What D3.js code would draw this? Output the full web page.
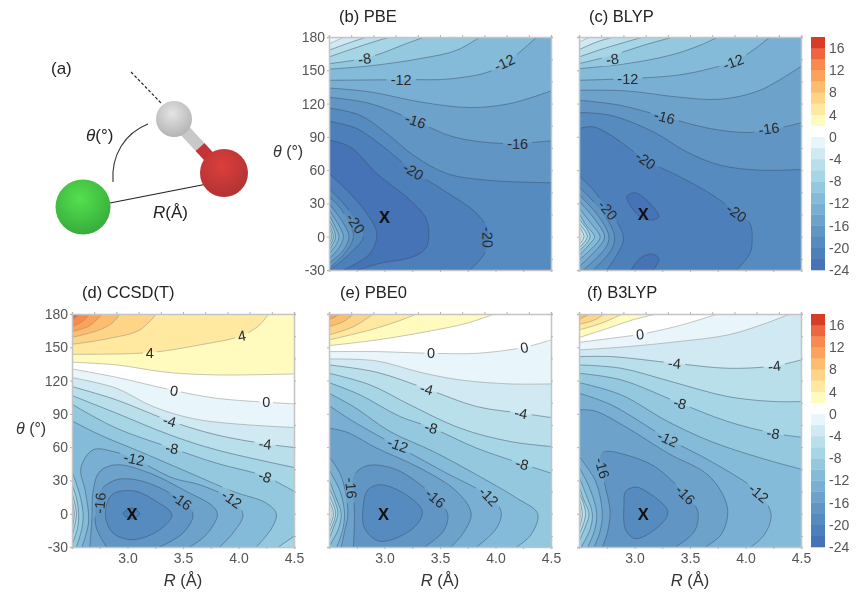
<!DOCTYPE html>
<html>
<head>
<meta charset="utf-8">
<script src="https://cdnjs.cloudflare.com/ajax/libs/d3/7.8.5/d3.min.js"></script>
<style>
  body { margin: 0; background: #fff; }
  svg { display: block; font-family: "Liberation Sans", Arial, sans-serif; filter: blur(0.45px); }
</style>
</head>
<body>
<svg id="chart" width="858" height="601"></svg>
<script>
// isolines: [level (kcal/mol), [[R, theta], ...]]
// open lines run with the higher energy on their left, lines not starting on the frame are closed loops
const pbeLines = [
  [-2, [[2.5,174],[2.64,180]]],
  [-4, [[2.5,168],[2.66,174],[2.84,180]]],
  [-6, [[2.5,162],[2.69,168.6],[2.87,174.6],[3.05,180]]],
  [-8, [[2.5,156],[2.72,159],[2.93,163.9],[3.17,173],[3.36,180]]],
  [-10, [[2.5,151],[2.87,154],[3.32,160.5],[3.65,168],[3.86,180]]],
  [-12, [[2.5,141],[3.15,141.6],[3.62,142.5],[4.01,151.5],[4.37,180]]],
  [-14, [[2.5,134],[2.87,130.5],[3.32,121.5],[3.77,116.4],[4.13,120],[4.5,131.4]]],
  [-16, [[2.5,125.7],[2.87,120],[3.28,104.4],[3.62,90],[4.07,84],[4.5,86.4]]],
  [-18, [[2.5,116],[2.78,109.5],[3.02,93],[3.26,73.5],[3.56,57],[3.92,51],[4.5,48.6]]],
  [-20, [[2.5,104],[2.75,97.5],[2.99,81],[3.26,59],[3.53,42],[3.83,21],[3.93,6],[3.9,-15],[3.77,-30]]],
  [-22, [[2.5,87],[2.69,81],[2.93,57],[3.23,33],[3.38,15],[3.38,-9],[3.26,-18],[2.96,-24],[2.76,-30]]],
  [-22, [[2.63,-30],[2.87,-15],[2.93,3],[2.84,21],[2.66,42],[2.5,57]]],
  [-20, [[2.51,-30],[2.69,-15],[2.81,0],[2.76,12],[2.63,30],[2.5,43.5]]],
  [-18, [[2.5,-28.5],[2.64,-15],[2.72,0],[2.67,15],[2.58,28.5],[2.5,36]]],
  [-16, [[2.5,-24],[2.63,-12],[2.68,0],[2.63,12],[2.5,30]]],
  [-14, [[2.5,-20],[2.59,-10],[2.63,0],[2.59,10],[2.5,24]]],
  [-12, [[2.5,-15],[2.56,-8],[2.59,0],[2.56,8],[2.5,20]]],
  [-10, [[2.5,-12],[2.56,0],[2.5,15]]],
  [-8, [[2.5,-9],[2.54,0],[2.5,11]]],
  [-6, [[2.5,-6],[2.525,0],[2.5,8]]],
  [-4, [[2.5,-3],[2.51,0],[2.5,4]]]
];
const blypLines = [
  [-2, [[2.5,175.5],[2.6,180]]],
  [-4, [[2.5,168.6],[2.66,175.5],[2.81,180]]],
  [-6, [[2.5,162],[2.72,169.5],[3.08,180]]],
  [-8, [[2.5,156],[2.8,163.5],[3.08,172.5],[3.35,180]]],
  [-10, [[2.5,151.5],[2.93,156],[3.32,163.5],[3.59,172.5],[3.75,180]]],
  [-12, [[2.5,141],[2.94,142.5],[3.38,145.5],[3.68,151.5],[3.95,160.5],[4.22,180]]],
  [-14, [[2.5,132],[2.93,131.4],[3.38,126],[3.77,123.9],[4.13,132],[4.5,153.6]]],
  [-16, [[2.5,123],[2.87,118.5],[3.27,108],[3.68,97.5],[4.01,93.9],[4.21,96],[4.5,102.6]]],
  [-18, [[2.5,111.9],[2.78,109.5],[3.17,94.5],[3.47,76.5],[3.77,64.5],[4.13,60],[4.5,60.6]]],
  [-20, [[2.5,97.5],[2.63,99],[2.81,90],[3.1,69],[3.38,55.5],[3.68,39],[3.92,21.6],[4.04,12],[4.06,-3],[4.04,-15],[3.92,-30]]],
  [-20, [[2.75,-30],[2.9,-3],[2.85,12],[2.76,24],[2.63,42],[2.5,54.9]]],
  [-22, [[2.93,36],[3.0,39.6],[3.11,33],[3.22,18],[3.14,15],[3.05,18],[2.97,27]]],
  [-22, [[2.97,-30],[3.05,-19.5],[3.15,-15.6],[3.22,-19.5],[3.17,-30]]],
  [-18, [[2.63,-30],[2.79,-12],[2.82,0],[2.72,21],[2.5,45]]],
  [-16, [[2.54,-30],[2.74,-10],[2.77,0],[2.68,18],[2.5,38]]],
  [-14, [[2.5,-27],[2.69,-8],[2.73,0],[2.64,16],[2.5,32]]],
  [-12, [[2.5,-21],[2.66,-6],[2.69,0],[2.6,13],[2.5,26]]],
  [-10, [[2.5,-17],[2.61,-5],[2.64,0],[2.56,11],[2.5,21]]],
  [-8, [[2.5,-13],[2.6,0],[2.5,16]]],
  [-6, [[2.5,-10],[2.575,0],[2.5,12]]],
  [-4, [[2.5,-7],[2.545,0],[2.5,9]]],
  [-2, [[2.5,-5],[2.52,0],[2.5,6]]]
];
const ccsdLines = [
  [14, [[2.5,174.6],[2.57,180]]],
  [12, [[2.5,168.6],[2.6,173.7],[2.66,180]]],
  [10, [[2.5,164.1],[2.66,169.5],[2.77,180]]],
  [8, [[2.5,159],[2.72,164.7],[2.86,171.6],[2.93,180]]],
  [6, [[2.5,152.7],[2.81,157.5],[3.11,165.6],[3.26,180]]],
  [4, [[2.5,143.7],[3.2,145.2],[3.65,152.1],[4.03,160.5],[4.19,170.1],[4.27,180]]],
  [2, [[2.5,136.5],[2.9,134.1],[3.35,127.5],[3.8,125.1],[4.5,126]]],
  [0, [[2.5,130.5],[2.9,123],[3.42,111],[3.8,104.1],[4.25,100.5],[4.5,99]]],
  [-2, [[2.5,122.7],[2.9,113.1],[3.23,96.6],[3.65,84.6],[4.5,77.7]]],
  [-4, [[2.5,114.6],[2.9,102.6],[3.38,83.7],[3.8,71.1],[4.24,63],[4.5,59.7]]],
  [-6, [[2.5,106.5],[2.9,90.6],[3.38,71.1],[3.8,57.6],[4.5,41.7]]],
  [-8, [[2.5,98.7],[2.9,77.1],[3.4,59.1],[3.8,45.6],[4.24,33.6],[4.5,20.1]]],
  [-8, [[4.5,-20.4],[4.36,-30]]],
  [-10, [[2.5,83.7],[2.75,71.1],[3.11,56.1],[3.53,38.1],[3.95,20.1],[4.25,9.6],[4.34,0],[4.3,-12.9],[4.16,-30]]],
  [-10, [[2.54,-30],[2.59,-12.9],[2.6,0],[2.57,17.1],[2.5,38.1]]],
  [-8, [[2.5,-27.9],[2.55,-12.9],[2.56,0],[2.54,14.1],[2.5,26.1]]],
  [-6, [[2.5,-20.4],[2.54,0],[2.5,18.6]]],
  [-4, [[2.5,-14.4],[2.52,0],[2.5,12.6]]],
  [-2, [[2.5,-8.4],[2.51,0],[2.5,6.6]]],
  [-12, [[2.59,-30],[2.65,-6.9],[2.62,20.1],[2.58,41.1],[2.69,57.6],[2.87,56.1],[3.06,49.5],[3.41,32.1],[3.65,26.1],[3.94,12.6],[4.04,-0.9],[3.95,-17.4],[3.83,-30]]],
  [-14, [[2.66,-30],[2.68,-3.9],[2.69,20.1],[2.75,38.1],[2.9,44.1],[3.2,36.6],[3.53,20.1],[3.77,6.6],[3.81,-0.9],[3.71,-18.9],[3.56,-30]]],
  [-16, [[2.81,-30],[2.72,-12.9],[2.71,2.1],[2.75,20.1],[2.9,30.6],[3.14,29.1],[3.49,11.7],[3.59,-0.9],[3.5,-17.4],[3.29,-30]]],
  [-18, [[2.8,-0.9],[2.86,17.1],[3.05,20.7],[3.26,11.1],[3.4,-0.9],[3.29,-14.4],[3.05,-23.4],[2.87,-17.4]]],
  [-20, [[2.96,0],[3.04,5.1],[3.11,0],[3.04,-4.5]]]
];
const pbe0Lines = [
  [10, [[2.5,174.6],[2.6,180]]],
  [8, [[2.5,168.6],[2.63,173.1],[2.72,180]]],
  [6, [[2.5,161.1],[2.72,168.6],[2.9,180]]],
  [4, [[2.5,156.6],[2.87,165.6],[3.11,173.1],[3.29,180]]],
  [2, [[2.5,151.5],[2.93,156.6],[3.38,164.1],[3.74,171.6],[3.99,180]]],
  [0, [[2.5,146.1],[2.93,146.1],[3.42,144.6],[3.83,144.6],[4.26,150],[4.5,156.6]]],
  [-2, [[2.5,139.5],[2.93,137.7],[3.32,127.5],[3.68,120.6],[4.13,117],[4.5,117]]],
  [-4, [[2.5,134.1],[2.93,127.5],[3.38,112.5],[3.83,96.6],[4.23,90.6],[4.5,86.7]]],
  [-6, [[2.5,126.6],[2.87,116.1],[3.23,98.1],[3.68,77.1],[4.13,65.1],[4.5,60.6]]],
  [-8, [[2.5,118.2],[2.78,107.1],[3.14,87.6],[3.42,77.7],[3.83,59.1],[4.24,45],[4.5,36.6]]],
  [-10, [[2.5,108.6],[2.72,96.6],[3.05,74.1],[3.44,56.1],[3.83,35.1],[4.19,14.1],[4.38,0],[4.32,-18.9],[4.19,-30]]],
  [-12, [[2.5,97.5],[2.72,83.1],[3.12,60.6],[3.53,38.1],[3.94,15.6],[4.05,2.1],[4.01,-12.9],[3.83,-30]]],
  [-14, [[2.5,77.1],[2.66,73.5],[2.93,59.1],[3.32,41.1],[3.65,20.1],[3.78,0.6],[3.72,-15.9],[3.6,-30]]],
  [-14, [[2.61,-30],[2.64,-15.9],[2.67,0.6],[2.61,33.6],[2.5,51.6]]],
  [-16, [[2.72,-30],[2.73,-0.9],[2.72,20.1],[2.72,33.6],[2.84,43.2],[3.11,39.6],[3.46,14.1],[3.57,-0.9],[3.53,-15.9],[3.36,-30]]],
  [-18, [[2.81,8.1],[2.85,21.6],[2.96,26.1],[3.17,18.6],[3.34,2.1],[3.26,-12.9],[2.96,-24.9],[2.82,-12.9]]],
  [-12, [[2.57,-30],[2.62,-15.9],[2.64,0],[2.6,20.1],[2.5,39.6]]],
  [-10, [[2.5,-29.4],[2.58,-15],[2.61,0],[2.56,15],[2.5,31]]],
  [-8, [[2.5,-23],[2.55,-10],[2.58,0],[2.55,12],[2.5,23.7]]],
  [-6, [[2.5,-17],[2.56,0],[2.5,17]]],
  [-4, [[2.5,-13],[2.54,0],[2.5,12]]],
  [-2, [[2.5,-9],[2.525,0],[2.5,8]]],
  [0, [[2.5,-4],[2.51,0],[2.5,4]]]
];
const b3lypLines = [
  [8, [[2.5,175.2],[2.6,180]]],
  [6, [[2.5,170.7],[2.64,174.6],[2.73,180]]],
  [4, [[2.5,165.6],[2.7,171.6],[2.89,180]]],
  [2, [[2.5,158.7],[2.76,167.1],[2.98,174.6],[3.2,180]]],
  [0, [[2.5,154.5],[2.79,158.1],[3.05,161.7],[3.39,169.2],[3.75,180]]],
  [-2, [[2.5,147.6],[2.94,150.6],[3.39,155.1],[3.84,161.1],[4.14,170.1],[4.4,180]]],
  [-4, [[2.5,141.6],[2.79,141.6],[3.36,135.6],[3.84,131.1],[4.26,133.2],[4.5,138.6]]],
  [-6, [[2.5,134.1],[2.88,131.1],[3.33,119.1],[3.84,105.6],[4.26,101.1],[4.5,101.1]]],
  [-8, [[2.5,126.6],[2.88,120.6],[3.41,99.6],[3.84,83.1],[4.25,72.6],[4.5,69]]],
  [-10, [[2.5,118.2],[2.88,107.1],[3.3,83.1],[3.69,65.1],[4.14,50.1],[4.5,40.2]]],
  [-12, [[2.5,108.6],[2.79,98.1],[3.3,67.5],[3.69,47.1],[4.12,18.6],[4.23,-0.9],[4.17,-18.9],[4.05,-30]]],
  [-14, [[2.5,93.6],[2.64,92.7],[2.94,77.1],[3.3,54.6],[3.66,35.1],[3.81,14.1],[3.84,-0.9],[3.78,-18.9],[3.64,-30]]],
  [-14, [[2.635,-30],[2.69,-15.9],[2.71,0.6],[2.65,29.1],[2.5,51.6]]],
  [-16, [[2.71,-30],[2.755,-17.4],[2.78,2.1],[2.73,27.6],[2.695,47.1],[2.695,53.1],[2.74,56.1],[2.92,53.1],[3.18,42.6],[3.46,17.1],[3.57,2.1],[3.54,-15.9],[3.37,-30]]],
  [-18, [[2.905,8.1],[2.92,20.1],[3.01,24],[3.13,18.6],[3.3,2.1],[3.235,-9.9],[3.01,-22.5],[2.92,-14.4]]],
  [-12, [[2.58,-30],[2.64,-15],[2.66,0],[2.6,22],[2.5,42]]],
  [-10, [[2.52,-30],[2.6,-14],[2.62,0],[2.56,18],[2.5,33]]],
  [-8, [[2.5,-25],[2.56,-11],[2.59,0],[2.54,13],[2.5,25]]],
  [-6, [[2.5,-19],[2.56,0],[2.5,19]]],
  [-4, [[2.5,-14],[2.53,0],[2.5,14]]],
  [-2, [[2.5,-9],[2.515,0],[2.5,9]]],
  [0, [[2.5,-5],[2.505,0],[2.5,5]]]
];

// inline labels: [text, R, theta, angle]
const pbeLabels = [['-8',2.82,160.5,-8],['-12',3.15,141.6,0],['-12',4.08,156.9,-25],['-16',3.28,104.4,18],['-16',4.2,84,0],['-20',3.26,59.1,30],['-20',2.74,12,55],['-20',3.93,-0.6,88]];
const blypLabels = [['-8',2.8,160.2,-8],['-12',2.94,142.5,0],['-12',3.89,157.5,-20],['-16',3.27,108,15],['-16',4.21,97.5,-8],['-20',3.1,69,35],['-20',2.76,24,50],['-20',3.92,21.6,35]];
const ccsdLabels = [['4',3.2,145.2,0],['4',4.03,160.5,-10],['0',3.42,111,10],['0',4.25,100.5,0],['-4',3.38,83.7,15],['-4',4.24,63,5],['-8',3.4,59.1,10],['-8',4.24,33.6,20],['-12',3.06,49.5,12],['-12',3.94,13.2,35],['-16',2.75,9.6,-85],['-16',3.49,11.7,35]];
const pbe0Labels = [['0',3.42,145.5,0],['0',4.26,150,-10],['-4',3.38,112.5,15],['-4',4.23,90.6,10],['-8',3.42,77.7,15],['-8',4.24,45,15],['-12',3.12,62.1,20],['-12',3.94,15.6,45],['-16',2.7,23.1,85],['-16',3.46,14.1,40]];
const b3lypLabels = [['0',3.05,161.7,-5],['-4',3.36,135.6,5],['-4',4.26,133.2,-5],['-8',3.41,99.6,15],['-8',4.25,72.6,10],['-12',3.3,67.5,25],['-12',4.12,18.6,40],['-16',2.71,41.1,75],['-16',3.46,17.1,45]];

// minima marked X: [R, theta]
const pbeMin = [3.0, 18], blypMin = [3.08, 20], ccsdMin = [3.04, 0], pbe0Min = [2.99, 0], b3lypMin = [3.08, 0];

const bandEdges = d3.range(-22, 18, 2);
const bandColors = ['#4573b5','#4d7fba','#568bbf','#6196c4','#6da2cb','#78afd2','#84bbd8','#93c8df','#a6d5e6','#b8dfea','#d0e9f2','#e8f5fa',
  '#ffffff','#fffbbf','#ffe9a0','#fed586','#fdbd6f','#fba35b','#f98a4e','#ee6640','#d73c27'];
const thetaTicks = [-30,0,30,60,90,120,150,180];
const rTicks = [3.0,3.5,4.0,4.5];
const barTicks = [-24,-20,-16,-12,-8,-4,0,4,8,12,16];

const color = d3.scaleThreshold().domain(bandEdges).range(bandColors);
const size = 222, h = 233;
const x = d3.scaleLinear().domain([2.5,4.5]).range([0,size]);
const y = d3.scaleLinear().domain([-30,180]).range([h,0]);

const panels = [
  {title:'(b) PBE', tx:339, ty:22, left:329, top:37, lines:pbeLines, labels:pbeLabels, min:pbeMin, yLabels:true},
  {title:'(c) BLYP', tx:589, ty:22, left:579, top:37, lines:blypLines, labels:blypLabels, min:blypMin},
  {title:'(d) CCSD(T)', tx:82, ty:298, left:72, top:314, lines:ccsdLines, labels:ccsdLabels, min:ccsdMin, yLabels:true, xLabels:true},
  {title:'(e) PBE0', tx:340, ty:298, left:329, top:314, lines:pbe0Lines, labels:pbe0Labels, min:pbe0Min, xLabels:true},
  {title:'(f) B3LYP', tx:587, ty:298, left:579, top:314, lines:b3lypLines, labels:b3lypLabels, min:b3lypMin, xLabels:true}
];

const svg = d3.select('#chart');
const openLine = d3.line().x(d=>x(d[0])).y(d=>y(d[1])).curve(d3.curveCatmullRom.alpha(0.5));
const loopLine = d3.line().x(d=>x(d[0])).y(d=>y(d[1])).curve(d3.curveCatmullRomClosed.alpha(0.5));
const onFrame = p => p[0]==2.5 || p[0]==4.5 || p[1]==-30 || p[1]==180;
const isLoop = pts => !onFrame(pts[0]);

// position along the frame, running down the left, along the bottom, up the right, back along the top
function framePos(p) {
  const px = x(p[0]), py = y(p[1]);
  if (p[0]==2.5) return py;
  if (p[1]==-30) return h + px;
  if (p[0]==4.5) return h + size + (h - py);
  return 2*h + size + (size - px);
}
const corners = [[h,0,h],[h+size,size,h],[2*h+size,size,0],[2*h+2*size,0,0]];

// closes an open isoline along the frame round its high side
function closeOnFrame(pts) {
  const total = 2*h + 2*size;
  const a = framePos(pts[pts.length-1]);
  let b = framePos(pts[0]);
  if (b <= a) b += total;
  let d = openLine(pts);
  [0,1].forEach(k => corners.forEach(c => {
    const t = c[0] + k*total;
    if (t > a && t < b) d += 'L' + c[1] + ',' + c[2];
  }));
  return d + 'Z';
}

function highSide(level, lines) {
  const pieces = lines.filter(l => l[0]==level).map(l => l[1]);
  const open = pieces.filter(p => !isLoop(p));
  const loops = pieces.filter(isLoop);
  let d = open.map(closeOnFrame).join('');
  if (!open.length) d = 'M0,0H' + size + 'V' + h + 'H0Z';
  return d + loops.map(p => loopLine(p)).join('');
}

panels.forEach((p, i) => {
  const g = svg.append('g').attr('transform', 'translate(' + p.left + ',' + p.top + ')');
  const defs = g.append('defs');
  defs.append('clipPath').attr('id','clip'+i).append('rect').attr('width',size).attr('height',h);

  const mask = defs.append('mask').attr('id','gaps'+i).attr('maskUnits','userSpaceOnUse')
    .attr('x',0).attr('y',0).attr('width',size).attr('height',h);
  mask.append('rect').attr('width',size).attr('height',h).attr('fill','#fff');
  mask.selectAll('rect.gap').data(p.labels).join('rect').attr('class','gap')
    .attr('x', d => -(d[0].length*3.9+3)).attr('y',-6)
    .attr('width', d => 2*(d[0].length*3.9+3)).attr('height',12)
    .attr('fill','#000')
    .attr('transform', d => 'translate(' + x(d[1]) + ',' + y(d[2]) + ') rotate(' + d[3] + ')');

  const levels = Array.from(new Set(p.lines.map(l => l[0]))).sort((a,b) => a-b);
  const plot = g.append('g').attr('clip-path','url(#clip'+i+')');
  plot.append('rect').attr('width',size).attr('height',h).attr('fill',color(levels[0]-1));
  plot.selectAll('path.band').data(levels).join('path').attr('class','band')
    .attr('d', l => highSide(l, p.lines))
    .attr('fill-rule','evenodd')
    .attr('fill', l => color(l+1));
  plot.append('g').attr('mask','url(#gaps'+i+')')
    .selectAll('path').data(p.lines).join('path')
    .attr('d', l => isLoop(l[1]) ? loopLine(l[1]) : openLine(l[1]))
    .attr('fill','none')
    .attr('stroke', l => l[0] > -4 ? '#8a8a80' : '#3a4a62')
    .attr('stroke-opacity', 0.6)
    .attr('stroke-width', 0.8);

  g.selectAll('text.iso').data(p.labels).join('text').attr('class','iso')
    .attr('transform', d => 'translate(' + x(d[1]) + ',' + y(d[2]) + ') rotate(' + d[3] + ')')
    .attr('text-anchor','middle').attr('dy','0.36em')
    .attr('font-size',14.5).attr('fill','#2b2b2b').text(d => d[0]);

  g.append('text').attr('x',x(p.min[0])).attr('y',y(p.min[1])).attr('dy','0.36em')
    .attr('text-anchor','middle').attr('font-size',16.5).attr('font-weight','bold').attr('fill','#111').text('X');

  // frame with its different tick spacing on each side
  const bottom = d3.axisBottom(x).tickValues(d3.range(2.5,4.51,0.25)).tickSize(2).tickPadding(4)
    .tickFormat(d => p.xLabels && rTicks.includes(d) ? d.toFixed(1) : '');
  const top = d3.axisTop(x).tickValues(d3.range(2.5,4.51,0.2)).tickSize(2).tickFormat('');
  const left = d3.axisLeft(y).tickValues(thetaTicks).tickSize(2).tickPadding(2)
    .tickFormat(d => p.yLabels ? d : '');
  const right = d3.axisRight(y).tickValues(d3.range(-20,181,20)).tickSize(2).tickFormat('');
  const frames = [
    g.append('g').attr('transform','translate(0,'+h+')').call(bottom),
    g.append('g').call(top),
    g.append('g').call(left),
    g.append('g').attr('transform','translate('+size+',0)').call(right)
  ];
  frames.forEach(a => {
    a.selectAll('.domain').attr('stroke','#c4c4c4').attr('stroke-width',1.5);
    a.selectAll('.tick line').attr('stroke','#b5b5b5');
    a.selectAll('text').attr('font-size',14).attr('fill','#555').attr('font-family','"Liberation Sans", Arial, sans-serif');
  });

  svg.append('text').attr('x',p.tx).attr('y',p.ty).attr('font-size',16.5).attr('fill','#222').text(p.title);

  if (p.yLabels) {
    const t = svg.append('text').attr('x',p.left-56).attr('y',p.top+120).attr('font-size',16).attr('fill','#333');
    t.append('tspan').attr('font-style','italic').text('θ');
    t.append('tspan').text(' (°)');
  }
  if (p.xLabels) {
    const t = svg.append('text').attr('x',p.left+x(3.5)).attr('y',p.top+h+39).attr('text-anchor','middle').attr('font-size',16.5).attr('fill','#333');
    t.append('tspan').attr('font-style','italic').text('R');
    t.append('tspan').text(' (Å)');
  }
});

// colour bars, one next to each row
[37, 314].forEach(top => {
  const barY = d3.scaleLinear().domain([-24,18]).range([h,0]);
  const bar = svg.append('g').attr('transform','translate(811,'+top+')');
  const edges = [-24].concat(bandEdges);
  bar.selectAll('rect').data(edges).join('rect')
    .attr('y', d => barY(d+2)).attr('width',14).attr('height', d => barY(d)-barY(d+2)+0.3)
    .attr('fill', d => color(d+1));
  const axis = bar.append('g').attr('transform','translate(14,0)')
    .call(d3.axisRight(barY).tickValues(barTicks).tickFormat(d => d).tickSize(0).tickPadding(4));
  axis.select('.domain').remove();
  axis.selectAll('text').attr('font-size',14).attr('fill','#555').attr('font-family','"Liberation Sans", Arial, sans-serif');
});

// (a) the Cl...H-O geometry sketch
const defs = svg.append('defs');
[['ballGreen','#55e04e','#37ad3c'],['ballRed','#dd3e3c','#b03433'],['ballGrey','#e4e4e4','#b4b4b4']].forEach(b => {
  const grad = defs.append('radialGradient').attr('id',b[0]).attr('cx','45%').attr('cy','35%').attr('r','65%');
  grad.append('stop').attr('offset','0%').attr('stop-color',b[1]);
  grad.append('stop').attr('offset','100%').attr('stop-color',b[2]);
});
const sketch = svg.append('g');
sketch.append('line').attr('x1',110).attr('y1',203).attr('x2',207).attr('y2',184).attr('stroke','#222').attr('stroke-width',1.2);
sketch.append('line').attr('x1',131).attr('y1',72).attr('x2',162).attr('y2',104).attr('stroke','#222').attr('stroke-width',1.2).attr('stroke-dasharray','3,2');
sketch.append('path').attr('d','M113,182C111,155,125,133,148,124').attr('fill','none').attr('stroke','#333').attr('stroke-width',1.1);
sketch.append('line').attr('x1',174).attr('y1',119).attr('x2',200).attr('y2',147).attr('stroke','#c8c8c8').attr('stroke-width',12);
sketch.append('line').attr('x1',200).attr('y1',147).attr('x2',224).attr('y2',173).attr('stroke','#c43434').attr('stroke-width',12);
sketch.append('circle').attr('cx',174).attr('cy',119).attr('r',18).attr('fill','url(#ballGrey)');
sketch.append('circle').attr('cx',224).attr('cy',173).attr('r',24).attr('fill','url(#ballRed)');
sketch.append('circle').attr('cx',83).attr('cy',207).attr('r',27.5).attr('fill','url(#ballGreen)');
sketch.append('text').attr('x',51).attr('y',74).attr('font-size',17).attr('fill','#222').text('(a)');
const thetaLabel = sketch.append('text').attr('x',86).attr('y',141).attr('font-size',17).attr('fill','#222');
thetaLabel.append('tspan').attr('font-style','italic').text('θ');
thetaLabel.append('tspan').text('(°)');
const rLabel = sketch.append('text').attr('x',153).attr('y',218).attr('font-size',17).attr('fill','#222');
rLabel.append('tspan').attr('font-style','italic').text('R');
rLabel.append('tspan').text('(Å)');
</script>
</body>
</html>
